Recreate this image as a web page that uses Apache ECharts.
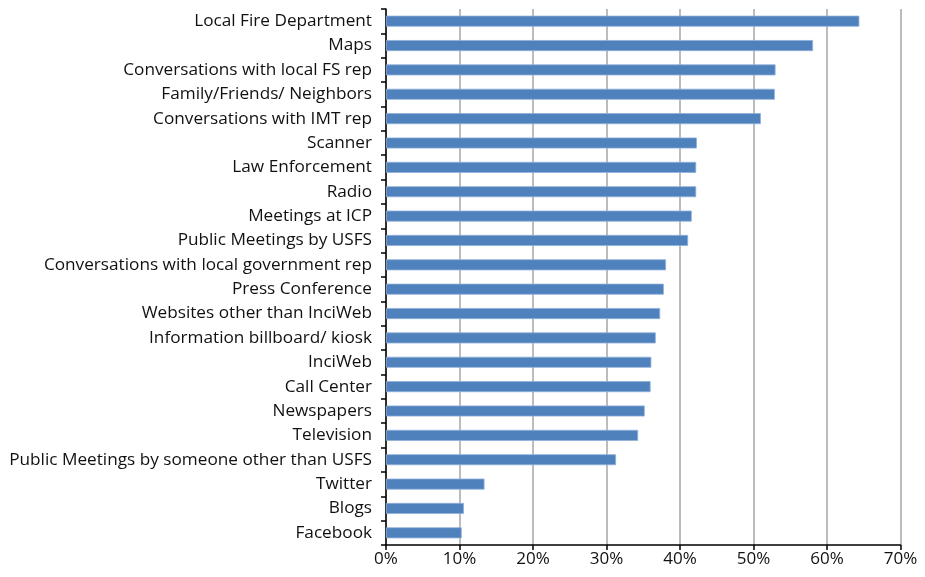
<!DOCTYPE html>
<html>
<head>
<meta charset="utf-8">
<script src="https://cdn.jsdelivr.net/npm/echarts@6/dist/echarts.min.js"></script>
<style>html,body{margin:0;padding:0;background:#fff;}#c{width:925px;height:577px;}</style>
</head>
<body>
<div id="c"></div>
<script>
const categories = [
  "Local Fire Department",
  "Maps",
  "Conversations with local FS rep",
  "Family/Friends/ Neighbors",
  "Conversations with IMT rep",
  "Scanner",
  "Law Enforcement",
  "Radio",
  "Meetings at ICP",
  "Public Meetings by USFS",
  "Conversations with local government rep",
  "Press Conference",
  "Websites other than InciWeb",
  "Information billboard/ kiosk",
  "InciWeb",
  "Call Center",
  "Newspapers",
  "Television",
  "Public Meetings by someone other than USFS",
  "Twitter",
  "Blogs",
  "Facebook"
];
const values = [64.4, 58.1, 53.0, 52.9, 51.0, 42.3, 42.2, 42.2, 41.6, 41.1, 38.1, 37.8, 37.3, 36.7, 36.1, 36.0, 35.2, 34.3, 31.3, 13.4, 10.6, 10.3];
const xTicks = [0, 10, 20, 30, 40, 50, 60, 70];

const chart = echarts.init(document.getElementById('c'));
chart.setOption({
  animation: false,
  backgroundColor: '#ffffff',
  grid: { left: 386, right: 24.5, top: 9, bottom: 32, containLabel: false },
  xAxis: {
    type: 'value',
    min: xTicks[0],
    max: xTicks[xTicks.length - 1],
    interval: 10,
    axisLine: { show: true, lineStyle: { color: '#000', width: 1.5 } },
    axisTick: { show: true, length: 5, lineStyle: { color: '#000', width: 1.5 } },
    splitLine: { show: true, lineStyle: { color: '#a6a6a6', width: 1.5 } },
    axisLabel: {
      formatter: v => v + '%',
      fontFamily: 'Open Sans, Liberation Sans, sans-serif',
      fontSize: 17,
      color: '#111',
      margin: 6
    }
  },
  yAxis: {
    type: 'category',
    data: categories,
    inverse: true,
    axisLine: { show: true, lineStyle: { color: '#000', width: 1.5 } },
    axisTick: { show: true, length: 5, lineStyle: { color: '#000', width: 1.5 } },
    splitLine: { show: false },
    axisLabel: {
      fontFamily: 'Open Sans, Liberation Sans, sans-serif',
      fontSize: 17.2,
      color: '#111',
      margin: 14
    }
  },
  series: [{
    type: 'bar',
    data: values,
    barWidth: 11,
    itemStyle: { color: '#4f81bd', borderColor: '#8fb0da', borderWidth: 0.8 }
  }]
});
</script>
</body>
</html>
